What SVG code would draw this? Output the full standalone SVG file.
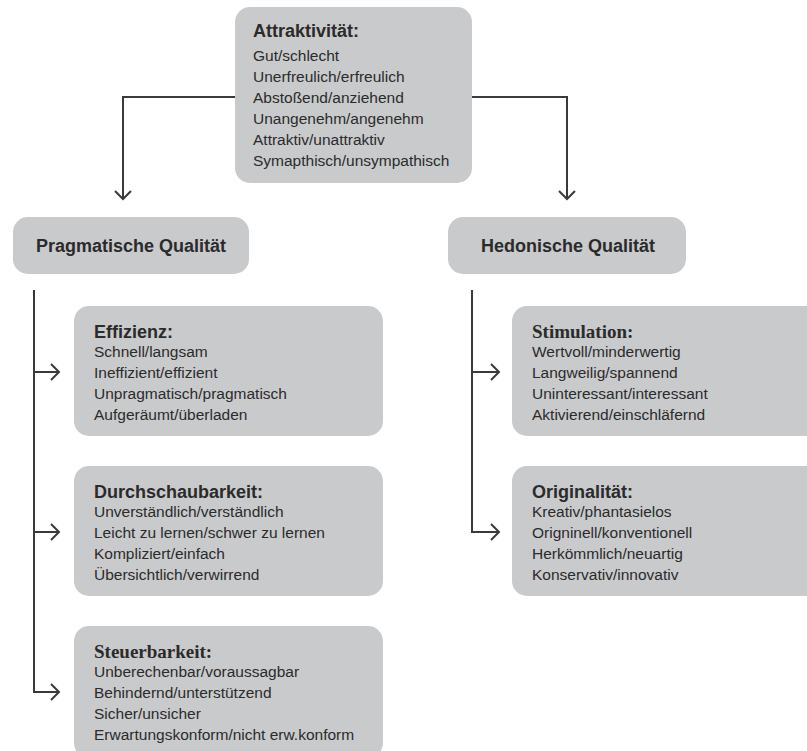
<svg xmlns="http://www.w3.org/2000/svg" width="807" height="751" viewBox="0 0 807 751">
<defs>
<marker id="arr" markerUnits="userSpaceOnUse" markerWidth="20" markerHeight="20" viewBox="-10 -10 20 20" refX="0" refY="0" orient="auto">
<path d="M-8,-8 L0,0 L-8,8" fill="none" stroke="#3a3a3a" stroke-width="2"/>
</marker>
<style>
.box{fill:#c9cacc;}
.t{font-family:"Liberation Sans",Arial,sans-serif;font-size:15.5px;fill:#2b2b2b;}
.h{font-family:"Liberation Sans",Arial,sans-serif;font-size:18px;font-weight:bold;fill:#2b2b2b;}
.hs{font-family:"Liberation Serif","Times New Roman",serif;font-size:19px;font-weight:bold;fill:#2b2b2b;}
.c{fill:none;stroke:#3a3a3a;stroke-width:2;}
</style>
</defs>
<rect width="807" height="751" fill="#ffffff"/>
<g id="connectors">
<path class="c" d="M235,97 H123 V199" marker-end="url(#arr)"/>
<path class="c" d="M472,97 H567 V199" marker-end="url(#arr)"/>
<path class="c" d="M34,290 V692 H59" marker-end="url(#arr)"/>
<path class="c" d="M34,372 H59" marker-end="url(#arr)"/>
<path class="c" d="M34,532 H59" marker-end="url(#arr)"/>
<path class="c" d="M472,290 V532 H499" marker-end="url(#arr)"/>
<path class="c" d="M472,372 H499" marker-end="url(#arr)"/>
</g>
<g id="attraktivitaet">
<rect class="box" x="235" y="7" width="237" height="176" rx="15"/>
<text class="h" x="253" y="37">Attraktivität:</text>
<text class="t" x="253" y="61">Gut/schlecht</text>
<text class="t" x="253" y="82">Unerfreulich/erfreulich</text>
<text class="t" x="253" y="103">Abstoßend/anziehend</text>
<text class="t" x="253" y="124">Unangenehm/angenehm</text>
<text class="t" x="253" y="145">Attraktiv/unattraktiv</text>
<text class="t" x="253" y="166">Symapthisch/unsympathisch</text>
</g>
<g id="pragmatisch">
<rect class="box" x="13" y="217" width="236" height="57" rx="15"/>
<text class="h" x="131" y="252" text-anchor="middle">Pragmatische Qualität</text>
</g>
<g id="hedonisch">
<rect class="box" x="448" y="217" width="238" height="57" rx="15"/>
<text class="h" x="568" y="252" text-anchor="middle">Hedonische Qualität</text>
</g>
<g id="effizienz">
<rect class="box" x="74" y="306" width="309" height="130" rx="15"/>
<text class="h" x="94" y="338">Effizienz:</text>
<text class="t" x="94" y="357">Schnell/langsam</text>
<text class="t" x="94" y="378">Ineffizient/effizient</text>
<text class="t" x="94" y="399">Unpragmatisch/pragmatisch</text>
<text class="t" x="94" y="420">Aufgeräumt/überladen</text>
</g>
<g id="durchschaubarkeit">
<rect class="box" x="74" y="466" width="309" height="130" rx="15"/>
<text class="h" x="94" y="498">Durchschaubarkeit:</text>
<text class="t" x="94" y="517">Unverständlich/verständlich</text>
<text class="t" x="94" y="538">Leicht zu lernen/schwer zu lernen</text>
<text class="t" x="94" y="559">Kompliziert/einfach</text>
<text class="t" x="94" y="580">Übersichtlich/verwirrend</text>
</g>
<g id="steuerbarkeit">
<rect class="box" x="74" y="626" width="309" height="132" rx="15"/>
<text class="hs" x="94" y="658">Steuerbarkeit:</text>
<text class="t" x="94" y="677">Unberechenbar/voraussagbar</text>
<text class="t" x="94" y="698">Behindernd/unterstützend</text>
<text class="t" x="94" y="719">Sicher/unsicher</text>
<text class="t" x="94" y="740">Erwartungskonform/nicht erw.konform</text>
</g>
<g id="stimulation">
<rect class="box" x="512" y="306" width="320" height="130" rx="15"/>
<text class="hs" x="532" y="338">Stimulation:</text>
<text class="t" x="532" y="357">Wertvoll/minderwertig</text>
<text class="t" x="532" y="378">Langweilig/spannend</text>
<text class="t" x="532" y="399">Uninteressant/interessant</text>
<text class="t" x="532" y="420">Aktivierend/einschläfernd</text>
</g>
<g id="originalitaet">
<rect class="box" x="512" y="466" width="320" height="130" rx="15"/>
<text class="h" x="532" y="498">Originalität:</text>
<text class="t" x="532" y="517">Kreativ/phantasielos</text>
<text class="t" x="532" y="538">Origninell/konventionell</text>
<text class="t" x="532" y="559">Herkömmlich/neuartig</text>
<text class="t" x="532" y="580">Konservativ/innovativ</text>
</g>
</svg>
